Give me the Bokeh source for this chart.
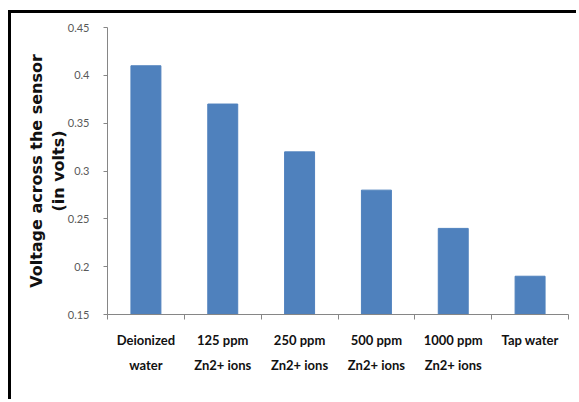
from bokeh.plotting import figure
from bokeh.models import Range1d, FixedTicker, ColumnDataSource
from bokeh.embed import file_html
from bokeh.resources import INLINE
import numpy as np

categories = ["Deionized\nwater", "125 ppm\nZn2+ ions", "250 ppm\nZn2+ ions",
              "500 ppm\nZn2+ ions", "1000 ppm\nZn2+ ions", "Tap water"]
voltages = [0.41, 0.37, 0.32, 0.28, 0.24, 0.19]
y_ticks = [0.15, 0.2, 0.25, 0.3, 0.35, 0.4, 0.45]
y_tick_labels = ["0.15", "0.2", "0.25", "0.3", "0.35", "0.4", "0.45"]

n = len(categories)
centers = list(np.arange(n) + 0.5)
src = ColumnDataSource(dict(x=centers, top=voltages))

p = figure(width=568, height=389, output_backend="svg", toolbar_location=None,
           x_range=Range1d(0, n), y_range=Range1d(0.15, 0.45),
           min_border_left=96, min_border_right=11, min_border_top=14, min_border_bottom=88)
p.styles = {"box-shadow": "-3px -3px 0px 0px black",
            "transform": "translate(11px, 13px)"}

p.vbar(x="x", top="top", bottom=0.15, width=0.39, source=src,
       fill_color="#4F81BD", line_color="#4F81BD")

p.xgrid.visible = False
p.ygrid.visible = False
p.outline_line_color = None
p.background_fill_color = "white"
p.border_fill_color = "white"

axis_col = "#868686"
p.xaxis.ticker = FixedTicker(ticks=centers, minor_ticks=list(range(n + 1)))
p.xaxis.major_label_overrides = {c: lab for c, lab in zip(centers, categories)}
p.xaxis.major_tick_line_color = None
p.xaxis.minor_tick_line_color = axis_col
p.xaxis.minor_tick_in = 0
p.xaxis.minor_tick_out = 5
p.xaxis.axis_line_color = axis_col
p.xaxis.major_label_text_font = "Lato"
p.xaxis.major_label_text_font_style = "bold"
p.xaxis.major_label_text_font_size = "13px"
p.xaxis.major_label_text_color = "#111111"
p.xaxis.major_label_text_line_height = 1.6
p.xaxis.major_label_standoff = 11

p.yaxis.ticker = FixedTicker(ticks=y_ticks, minor_ticks=[])
p.yaxis.major_label_overrides = {t: l for t, l in zip(y_ticks, y_tick_labels)}
p.yaxis.axis_line_color = axis_col
p.yaxis.major_tick_line_color = axis_col
p.yaxis.major_tick_in = 0
p.yaxis.major_tick_out = 4
p.yaxis.minor_tick_line_color = None
p.yaxis.major_label_text_font = "Lato"
p.yaxis.major_label_text_font_size = "11px"
p.yaxis.major_label_text_color = "#595959"
p.yaxis.major_label_standoff = 14
p.yaxis.axis_label = "Voltage across the sensor\n(in volts)"
p.yaxis.axis_label_text_font = "DejaVu Sans"
p.yaxis.axis_label_text_font_style = "bold"
p.yaxis.axis_label_text_font_size = "16px"
p.yaxis.axis_label_text_color = "#111111"
p.yaxis.axis_label_text_line_height = 1.15
p.yaxis.axis_label_standoff = -3

open("out.html", "w").write(file_html(p, INLINE))
